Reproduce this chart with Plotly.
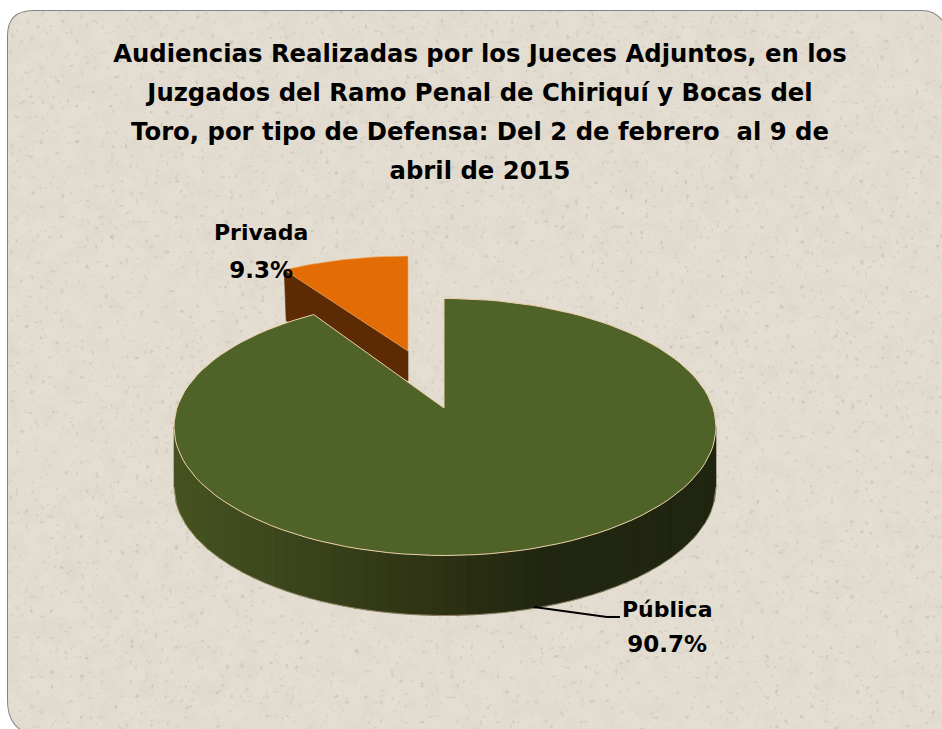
import base64
import math
import plotly.graph_objects as go

# ---- data ----
categories = ["Privada", "Pública"]
shares = [9.3, 90.7]
title_lines = [
    "Audiencias Realizadas por los Jueces Adjuntos, en los",
    "Juzgados del Ramo Penal de Chiriquí y Bocas del",
    "Toro, por tipo de Defensa: Del 2 de febrero  al 9 de",
    "abril de 2015",
]

FONT = "DejaVu Sans"
W, H = 942, 729

# ---- pie projection (pixel axes) ----
MAIN = dict(apex=(444, 408), centre=(445, 427), rx=271, ry=128.5, depth=60)
SLICE = dict(apex=(408, 351), centre=(408, 367), rx=256, ry=111, depth=30)
STEPS = 120


def hit(p, theta):
    """Point of the rim reached from the apex at pie angle theta (clockwise from 12 o'clock)."""
    ax, ay = p["apex"]
    cx, cy = p["centre"]
    dx, dy = p["rx"] * math.sin(theta), -p["ry"] * math.cos(theta)
    ox, oy = (ax - cx) / p["rx"], (ay - cy) / p["ry"]
    ux, uy = dx / p["rx"], dy / p["ry"]
    a = ux * ux + uy * uy
    b = 2 * (ox * ux + oy * uy)
    c = ox * ox + oy * oy - 1
    t = (-b + math.sqrt(b * b - 4 * a * c)) / (2 * a)
    return ax + t * dx, ay + t * dy


def sector(p, start, end):
    pts = [hit(p, start + (end - start) * i / STEPS) for i in range(STEPS + 1)]
    return [p["apex"]] + pts + [p["apex"]]


def poly(points, fill, line=None, width=0):
    return go.Scatter(
        x=[q[0] for q in points], y=[q[1] for q in points],
        mode="lines", fill="toself", fillcolor=fill,
        line=dict(color=line or fill, width=width if line else 0.6),
        hoverinfo="skip", showlegend=False,
    )


total = sum(shares)
a_priv = shares[0] / total * 2 * math.pi
traces = []

# private slice: spans from -a_priv to 0, drawn behind
s_start, s_end = -a_priv, 0.0
p0 = hit(SLICE, s_start)
d = SLICE["depth"]
ap = SLICE["apex"]
traces.append(poly([p0, ap, (ap[0], ap[1] + d), (p0[0] + 2, p0[1] + d + 21), p0], "#5c2a03"))
traces.append(poly(sector(SLICE, s_start, s_end), "#e36c05", "#f0b070", 0.6))

# public slice wall, shaded in vertical strips along the front of the rim
WALL_STOPS = [(174, (70, 83, 32)), (300, (58, 68, 28)), (450, (44, 49, 19)),
              (540, (33, 38, 16)), (716, (31, 37, 15))]


def wall_colour(x):
    for (x0, c0), (x1, c1) in zip(WALL_STOPS, WALL_STOPS[1:]):
        if x <= x1:
            f = (x - x0) / (x1 - x0)
            return "rgb(%d,%d,%d)" % tuple(round(a + (b - a) * f) for a, b in zip(c0, c1))
    return "rgb(31,37,15)"


cx, cy, rx, ry, dep = MAIN["centre"][0], MAIN["centre"][1], MAIN["rx"], MAIN["ry"], MAIN["depth"]
N = 48
for i in range(N):
    x0 = cx - rx + 2 * rx * i / N
    x1 = cx - rx + 2 * rx * (i + 1) / N + 0.5
    xs, ys = [], []
    for k in range(7):
        x = min(x0 + (x1 - x0) * k / 6, cx + rx)
        xs.append(x)
        ys.append(cy + ry * math.sqrt(max(0, 1 - ((x - cx) / rx) ** 2)))
    top = list(zip(xs, ys))
    bottom = [(x, y + dep) for x, y in top][::-1]
    traces.append(poly(top + bottom + [top[0]], wall_colour((x0 + x1) / 2)))

# bottom rim highlight
rim_x = [cx - rx + 2 * rx * i / 200 for i in range(201)]
rim_y = [cy + dep + ry * math.sqrt(max(0, 1 - ((x - cx) / rx) ** 2)) for x in rim_x]
traces.append(go.Scatter(x=rim_x, y=rim_y, mode="lines", line=dict(color="#d9bd98", width=0.5),
                         hoverinfo="skip", showlegend=False))

# public slice top
traces.append(poly(sector(MAIN, 0.0, shares[1] / total * 2 * math.pi), "#4f6228", "#ecd0a8", 1))

# leader line of the public label
traces.append(go.Scatter(x=[534, 607, 620], y=[607, 617, 617], mode="lines",
                         line=dict(color="#000000", width=2), hoverinfo="skip", showlegend=False))

# ---- paper texture as an SVG turbulence image ----
svg = f'''<svg xmlns="http://www.w3.org/2000/svg" width="{W}" height="{H}">
<defs>
<filter id="m" x="0" y="0" width="100%" height="100%">
<feTurbulence type="fractalNoise" baseFrequency="0.05" numOctaves="4" seed="3"/>
<feColorMatrix values="0 0 0 0 0.62  0 0 0 0 0.58  0 0 0 0 0.50  0 0 0 1.3 -0.52"/>
</filter>
<filter id="n" x="0" y="0" width="100%" height="100%">
<feTurbulence type="fractalNoise" baseFrequency="0.2" numOctaves="2" seed="11"/>
<feColorMatrix values="0 0 0 0 0.50  0 0 0 0 0.47  0 0 0 0 0.42  0 0 0 5 -3.25"/>
<feGaussianBlur stdDeviation="0.7"/>
</filter>
<clipPath id="c"><path d="M 8 36 Q 8 11 33 11 L 922 11 Q 935 11 943 22 L 943 730 L 22 730 Q 8 722 8 700 Z"/></clipPath></defs>
<g clip-path="url(#c)"><rect width="{W}" height="{H}" fill="#e4ddd1"/>
<rect width="{W}" height="{H}" filter="url(#m)" opacity="0.35"/>
<rect width="{W}" height="{H}" filter="url(#n)" opacity="0.6"/></g></svg>'''
href = "data:image/svg+xml;base64," + base64.b64encode(svg.encode()).decode()


def two_line(a, b, x, y, lead):
    return dict(
        text=f'<span style="font-size:22px">{a}</span><br><span style="font-size:23px">{b}</span>',
        x=x, y=y, xref="x", yref="y", showarrow=False,
        font=dict(family=FONT, size=lead, color="#000000", weight="bold"),
        xanchor="center", yanchor="middle", align="center",
    )


labels = [
    two_line(categories[0], f"{shares[0]:.1f}%", 261, 251, 29),
    two_line(categories[1], f"{shares[1]:.1f}%", 667, 627, 27),
]

title_text = "<br>".join(f'<span style="font-size:24.3px">{t}</span>' for t in title_lines)

fig = go.Figure(traces)
fig.update_layout(
    width=W, height=H, margin=dict(l=0, r=0, t=0, b=0),
    paper_bgcolor="#ffffff", plot_bgcolor="rgba(0,0,0,0)", showlegend=False,
    title=dict(text=title_text, x=480 / W, xanchor="center", y=1 - 62 / H, yanchor="top",
               font=dict(family=FONT, size=30, color="#000000", weight="bold")),
    xaxis=dict(range=[0, W], visible=False, fixedrange=True),
    yaxis=dict(range=[H, 0], visible=False, fixedrange=True),
    annotations=labels,
    images=[dict(source=href, xref="x", yref="y", x=0, y=0, sizex=W, sizey=H,
                 sizing="stretch", layer="below", xanchor="left", yanchor="top")],
    shapes=[dict(type="path", layer="below", xref="x", yref="y",
                 path="M 8 36 Q 8 11 33 11 L 922 11 Q 935 11 943 22 M 8 36 L 8 700 Q 8 722 22 730",
                 line=dict(color="#858585", width=2), fillcolor="rgba(0,0,0,0)")],
)
fig.write_html("out.html", config={"displayModeBar": False},
               post_script="document.body.style.margin='0';document.body.style.overflow='hidden';")
